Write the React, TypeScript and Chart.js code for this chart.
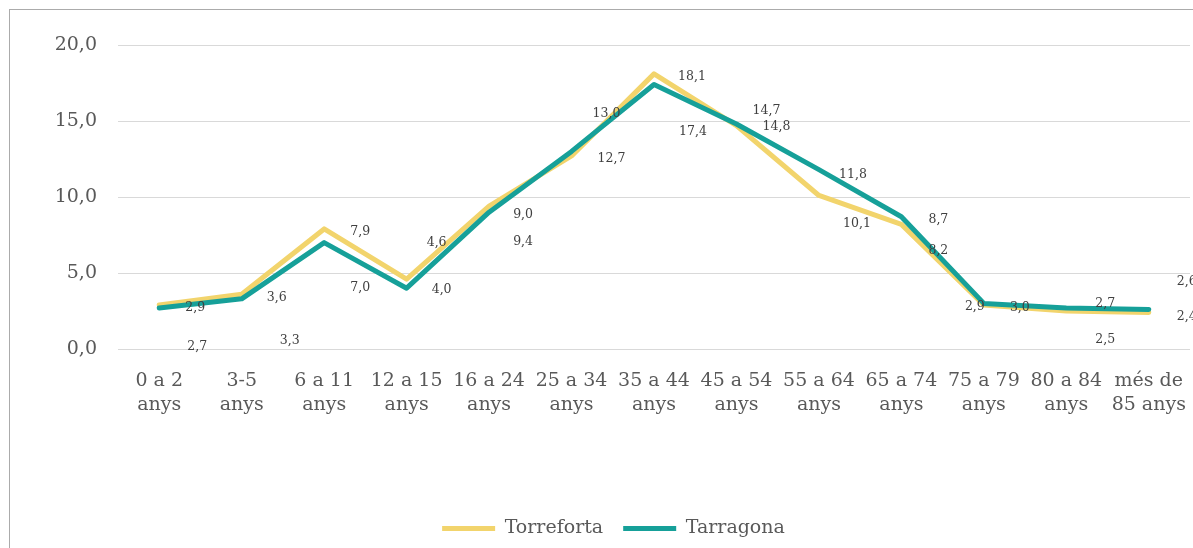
import React, { useEffect, useRef } from "react";
import { Chart, registerables } from "chart.js";

Chart.register(...registerables);

const categories = [
  "0 a 2 anys", "3-5 anys", "6 a 11 anys", "12 a 15 anys", "16 a 24 anys",
  "25 a 34 anys", "35 a 44 anys", "45 a 54 anys", "55 a 64 anys",
  "65 a 74 anys", "75 a 79 anys", "80 a 84 anys", "més de 85 anys",
];
const tickLabels = [
  ["0 a 2", "anys"], ["3-5", "anys"], ["6 a 11", "anys"], ["12 a 15", "anys"],
  ["16 a 24", "anys"], ["25 a 34", "anys"], ["35 a 44", "anys"], ["45 a 54", "anys"],
  ["55 a 64", "anys"], ["65 a 74", "anys"], ["75 a 79", "anys"], ["80 a 84", "anys"],
  ["més de", "85 anys"],
];
const torreforta = [2.9, 3.6, 7.9, 4.6, 9.4, 12.7, 18.1, 14.7, 10.1, 8.2, 2.9, 2.5, 2.4];
const tarragona = [2.7, 3.3, 7.0, 4.0, 9.0, 13.0, 17.4, 14.8, 11.8, 8.7, 3.0, 2.7, 2.6];
const yMin = 0;
const yMax = 20;
const yStep = 5;

// data-label placement offsets (px) relative to each point, as in the original
const labelOffsetT = [[36, 3], [35, 3], [36, 3], [30, -36], [34, 36], [40, 3], [38, 3], [30, -15], [38, 28], [37, 26], [-9, 2], [39, 29], [38, 4]];
const labelOffsetG = [[38, 39], [48, 42], [36, 45], [35, 2], [34, 3], [35, -38], [39, 47], [40, 3], [34, 5], [37, 3], [36, 4], [39, -4], [38, -28]];

const YELLOW = "#F2D46C";
const TEAL = "#16A099";
const FONT = "'DejaVu Serif', serif";

const fmt = (v: number) => v.toFixed(1).replace(".", ",");

const dataLabels = {
  id: "dataLabels",
  afterDatasetsDraw(chart: any) {
    const ctx = chart.ctx;
    ctx.save();
    ctx.font = `12.5px ${FONT}`;
    ctx.fillStyle = "#404040";
    ctx.textAlign = "center";
    ctx.textBaseline = "middle";
    chart.data.datasets.forEach((ds: any, di: number) => {
      const meta = chart.getDatasetMeta(di);
      const offs = ds.label === "Torreforta" ? labelOffsetT : labelOffsetG;
      meta.data.forEach((pt: any, i: number) => {
        ctx.fillText(fmt(ds.data[i]), pt.x + offs[i][0], pt.y + offs[i][1]);
      });
    });
    ctx.restore();
  },
};

export default function App() {
  const ref = useRef<HTMLCanvasElement | null>(null);
  useEffect(() => {
    if (!ref.current) return;
    const chart = new Chart(ref.current, {
      type: "line",
      data: {
        labels: categories,
        datasets: [
          {
            label: "Torreforta",
            data: torreforta,
            borderColor: YELLOW,
            backgroundColor: YELLOW,
            borderWidth: 5,
            pointRadius: 0,
            tension: 0,
            borderJoinStyle: "round",
            borderCapStyle: "round",
            order: 1,
          },
          {
            label: "Tarragona",
            data: tarragona,
            borderColor: TEAL,
            backgroundColor: TEAL,
            borderWidth: 5,
            pointRadius: 0,
            tension: 0,
            borderJoinStyle: "round",
            borderCapStyle: "round",
            order: 0,
          },
        ],
      },
      options: {
        responsive: false,
        animation: false,
        events: [],
        layout: { padding: { left: 27, right: 27, top: 35, bottom: 9 } },
        scales: {
          x: {
            offset: true,
            grid: { display: false, drawTicks: false },
            border: { display: false },
            ticks: {
              padding: 20,
              maxRotation: 0,
              autoSkip: false,
              color: "#595959",
              font: { family: FONT, size: 19, lineHeight: 1.26 },
              callback: (_v: any, i: number) => tickLabels[i],
            },
            afterFit: (s: any) => { s.height = 150; },
          },
          y: {
            min: yMin,
            max: yMax,
            grid: { color: "#d9d9d9", lineWidth: 1, drawTicks: false },
            border: { display: false },
            ticks: {
              stepSize: yStep,
              padding: 21,
              color: "#595959",
              font: { family: FONT, size: 19 },
              callback: (v: any) => fmt(Number(v)),
            },
            afterFit: (s: any) => { s.width = 81; },
          },
        },
        plugins: {
          tooltip: { enabled: false },
          legend: {
            position: "bottom",
            labels: {
              boxWidth: 53,
              boxHeight: 5,
              padding: 20,
              color: "#595959",
              font: { family: FONT, size: 19 },
              sort: (a: any, b: any) => a.datasetIndex - b.datasetIndex,
              generateLabels: (c: any) =>
                Chart.defaults.plugins.legend.labels
                  .generateLabels(c)
                  .map((it: any) => ({ ...it, lineWidth: 0, fillStyle: it.strokeStyle })),
            },
          },
        },
      },
      plugins: [dataLabels],
    } as any);
    return () => chart.destroy();
  }, []);

  return (
    <div
      style={{
        position: "fixed",
        left: 0,
        top: 0,
        width: 1193,
        height: 548,
        overflow: "hidden",
        background: "#fff",
      }}
    >
      <div
        style={{
          position: "absolute",
          left: 9,
          top: 9,
          width: 1207,
          height: 547,
          borderLeft: "1px solid #ababab",
          borderTop: "1px solid #ababab",
        }}
      >
        <canvas ref={ref} width={1207} height={547} style={{ display: "block" }} />
      </div>
    </div>
  );
}
